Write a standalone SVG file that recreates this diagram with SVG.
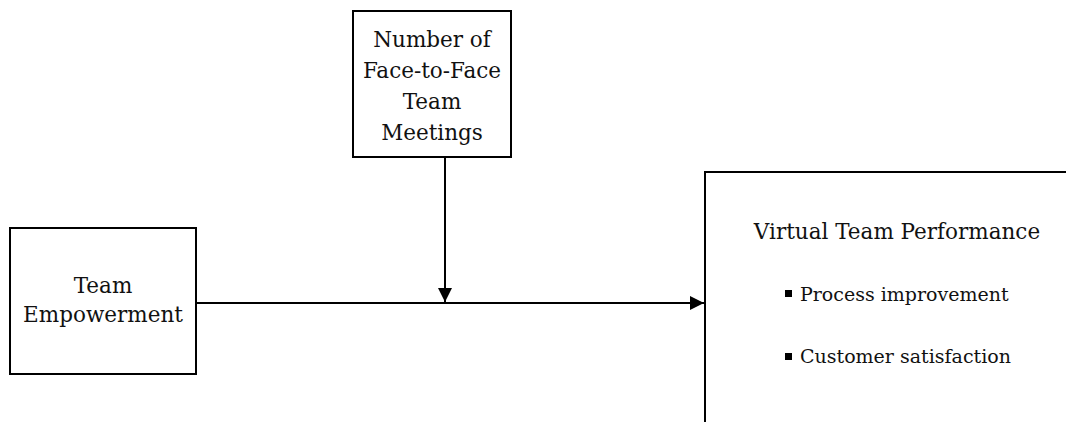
<svg xmlns="http://www.w3.org/2000/svg" width="1066" height="422" viewBox="0 0 1066 422">
<style>
.box{fill:#fff;stroke:#000;stroke-width:2}
.t{font-family:"DejaVu Serif","Liberation Serif",serif;font-size:21.5px;fill:#111}
.s{font-size:19px}
.c{text-anchor:middle}
.ln{stroke:#000;stroke-width:2;fill:none}
</style>
<defs>
<marker id="ah" viewBox="0 0 10 10" refX="10" refY="5" markerWidth="14" markerHeight="14" markerUnits="userSpaceOnUse" orient="auto">
<path d="M0,0 L10,5 L0,10 z" fill="#000"/>
</marker>
</defs>
<g id="node-meetings">
<rect class="box" x="353" y="11" width="158" height="146"/>
<text class="t c" x="432" y="47">Number of</text>
<text class="t c" x="432" y="78">Face-to-Face</text>
<text class="t c" x="432" y="109">Team</text>
<text class="t c" x="432" y="140">Meetings</text>
</g>
<g id="node-empowerment">
<rect class="box" x="10" y="228" width="186" height="146"/>
<text class="t c" x="103" y="293">Team</text>
<text class="t c" x="103" y="322">Empowerment</text>
</g>
<g id="node-performance">
<rect class="box" x="705" y="172" width="400" height="300"/>
<text class="t c" x="897" y="239">Virtual Team Performance</text>
<rect x="785" y="290" width="7" height="7" fill="#000"/>
<text class="t s" x="800" y="301">Process improvement</text>
<rect x="785" y="353" width="7" height="7" fill="#000"/>
<text class="t s" x="800" y="363">Customer satisfaction</text>
</g>
<g id="connectors">
<line class="ln" x1="196" y1="303" x2="704" y2="303" marker-end="url(#ah)"/>
<line class="ln" x1="445" y1="157" x2="445" y2="302" marker-end="url(#ah)"/>
</g>
</svg>
